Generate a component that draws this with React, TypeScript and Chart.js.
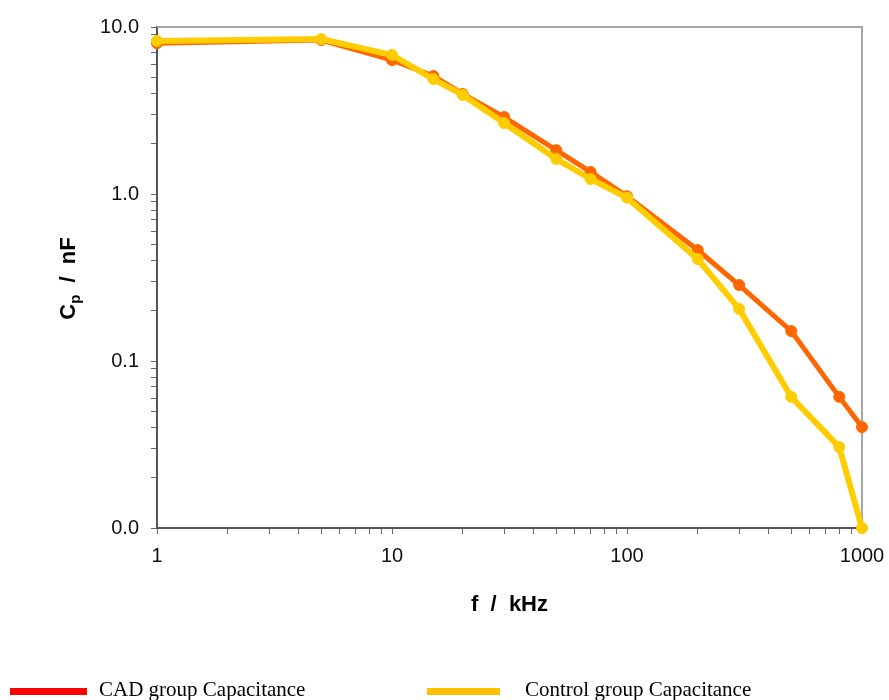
import React, { useEffect, useRef } from "react";
import { Chart, registerables } from "chart.js";

Chart.register(...registerables);

// ---- Data ----
const frequencies = [1, 5, 10, 15, 20, 30, 50, 70, 100, 200, 300, 500, 800, 1000];
const cadCapacitance = [8.0, 8.36, 6.34, 5.09, 3.97, 2.89, 1.83, 1.355, 0.97, 0.462, 0.285, 0.151, 0.061, 0.0402];
const controlCapacitance = [8.25, 8.47, 6.8, 4.88, 3.92, 2.66, 1.62, 1.23, 0.95, 0.408, 0.205, 0.0609, 0.0305, 0.01];
const xTickLabels = ["1", "10", "100", "1000"];
const yTickLabels = ["0.0", "0.1", "1.0", "10.0"];
const seriesNames = ["CAD group Capacitance", "Control group Capacitance"];

const X_MIN = 1, X_MAX = 1000, Y_MIN = 0.01, Y_MAX = 10;

function decadeTicks(min: number, max: number) {
  const out: { value: number; major: boolean }[] = [];
  const e0 = Math.round(Math.log10(min));
  const e1 = Math.round(Math.log10(max));
  for (let e = e0; e <= e1; e++) {
    for (let m = 1; m <= 9; m++) {
      const v = parseFloat((m * Math.pow(10, e)).toPrecision(6));
      if (v >= min - 1e-12 && v <= max + 1e-12) out.push({ value: v, major: m === 1 });
    }
  }
  return out;
}

function isDecade(v: number) {
  const l = Math.log10(v);
  return Math.abs(l - Math.round(l)) < 1e-9;
}

const decorPlugin = {
  id: "decor",
  beforeDatasetsDraw(chart: any) {
    const { ctx, chartArea } = chart;
    ctx.save();
    ctx.strokeStyle = "#A6A6A6";
    ctx.lineWidth = 2;
    ctx.beginPath();
    ctx.moveTo(chartArea.left, chartArea.top);
    ctx.lineTo(chartArea.right, chartArea.top);
    ctx.lineTo(chartArea.right, chartArea.bottom);
    ctx.stroke();
    ctx.restore();
  },
  afterDraw(chart: any) {
    const { ctx, chartArea } = chart;
    ctx.save();
    // Y axis title with subscript
    const cy = (chartArea.top + chartArea.bottom) / 2 + 1;
    ctx.translate(75, cy);
    ctx.rotate(-Math.PI / 2);
    ctx.fillStyle = "#000";
    ctx.textBaseline = "alphabetic";
    const big = 'bold 22px "Liberation Sans", Arial, sans-serif';
    const small = 'bold 15px "Liberation Sans", Arial, sans-serif';
    ctx.font = big;
    const wC = ctx.measureText("C").width;
    const rest = "  /  nF";
    const wRest = ctx.measureText(rest).width;
    ctx.font = small;
    const wp = ctx.measureText("p").width;
    const total = wC + wp + wRest;
    let x = -total / 2;
    ctx.font = big;
    ctx.fillText("C", x, 0);
    x += wC;
    ctx.font = small;
    ctx.fillText("p", x, 5);
    x += wp;
    ctx.font = big;
    ctx.fillText(rest, x, 0);
    ctx.restore();

    // Legend
    ctx.save();
    ctx.font = '21px "Liberation Serif", "Times New Roman", serif';
    ctx.textBaseline = "alphabetic";
    ctx.fillStyle = "#FF0000";
    ctx.fillRect(10, 688, 77, 7);
    ctx.fillStyle = "#000";
    ctx.fillText(seriesNames[0], 99, 696);
    ctx.fillStyle = "#FFC000";
    ctx.fillRect(427, 688, 73, 7);
    ctx.fillStyle = "#000";
    ctx.fillText(seriesNames[1], 525, 696);
    ctx.restore();
  },
};

export default function App() {
  const ref = useRef<HTMLCanvasElement | null>(null);

  useEffect(() => {
    if (!ref.current) return;
    const tickFont = { family: '"Liberation Sans", Arial, sans-serif', size: 20 };
    const chart = new Chart(ref.current, {
      type: "line",
      data: {
        datasets: [
          {
            label: seriesNames[0],
            data: frequencies.map((f, i) => ({ x: f, y: cadCapacitance[i] })),
            borderColor: "#FF6600",
            backgroundColor: "#FF6600",
            borderWidth: 5,
            pointRadius: 5.5,
            pointBorderWidth: 1,
            pointBackgroundColor: "#FF6600",
            pointBorderColor: "#FF6600",
            tension: 0,
            order: 1,
            clip: false as any,
          },
          {
            label: seriesNames[1],
            data: frequencies.map((f, i) => ({ x: f, y: controlCapacitance[i] })),
            borderColor: "#FFCC00",
            backgroundColor: "#FFCC00",
            borderWidth: 6,
            pointRadius: 5.5,
            pointBorderWidth: 1,
            pointBackgroundColor: "#FFCC00",
            pointBorderColor: "#FFCC00",
            tension: 0,
            order: 0,
            clip: false as any,
          },
        ],
      },
      options: {
        animation: false,
        responsive: false,
        maintainAspectRatio: false,
        layout: { padding: { left: 0, top: 27, right: 27, bottom: 72 } },
        plugins: {
          legend: { display: false },
          tooltip: { enabled: false },
        },
        scales: {
          x: {
            type: "logarithmic",
            min: X_MIN,
            max: X_MAX,
            position: "bottom",
            afterBuildTicks: (s: any) => {
              s.ticks = decadeTicks(X_MIN, X_MAX);
            },
            afterFit: (s: any) => {
              s.height = 100;
              s.paddingLeft = 0;
              s.paddingRight = 0;
            },
            grid: { drawOnChartArea: false, drawTicks: true, tickLength: 6, color: "#666", lineWidth: 1 },
            border: { display: true, color: "#555", width: 2 },
            ticks: {
              autoSkip: false,
              maxRotation: 0,
              minRotation: 0,
              padding: 10,
              color: "#111",
              font: tickFont,
              callback: (v: any) => {
                const n = Number(v);
                if (!isDecade(n)) return "";
                const idx = Math.round(Math.log10(n) - Math.log10(X_MIN));
                return xTickLabels[idx] ?? "";
              },
            },
            title: {
              display: true,
              text: "f  /  kHz",
              color: "#000",
              font: { family: '"Liberation Sans", Arial, sans-serif', size: 22, weight: "bold" },
              padding: { top: 0, bottom: 10 },
            },
          },
          y: {
            type: "logarithmic",
            min: Y_MIN,
            max: Y_MAX,
            position: "left",
            afterBuildTicks: (s: any) => {
              s.ticks = decadeTicks(Y_MIN, Y_MAX);
            },
            afterFit: (s: any) => {
              s.width = 157;
              s.paddingTop = 0;
              s.paddingBottom = 0;
            },
            grid: { drawOnChartArea: false, drawTicks: true, tickLength: 6, color: "#666", lineWidth: 1 },
            border: { display: true, color: "#555", width: 2 },
            ticks: {
              autoSkip: false,
              padding: 12,
              color: "#111",
              font: tickFont,
              callback: (v: any) => {
                const n = Number(v);
                if (!isDecade(n)) return "";
                const idx = Math.round(Math.log10(n) - Math.log10(Y_MIN));
                return yTickLabels[idx] ?? "";
              },
            },
          },
        },
      } as any,
      plugins: [decorPlugin],
    });
    return () => chart.destroy();
  }, []);

  return (
    <div style={{ position: "absolute", left: 0, top: 0, width: 889, height: 700, background: "#fff" }}>
      <canvas ref={ref} width={889} height={700} style={{ display: "block", width: 889, height: 700 }} />
    </div>
  );
}
